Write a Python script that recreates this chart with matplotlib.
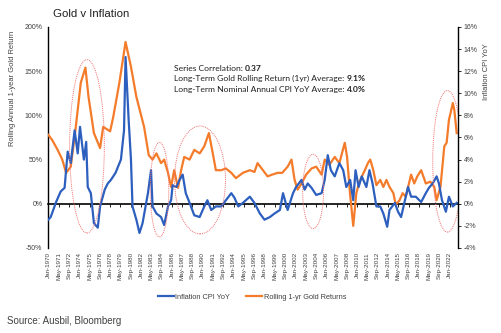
import numpy as np
import matplotlib
matplotlib.use("Agg")
import matplotlib.pyplot as plt
from matplotlib.patches import Ellipse
from matplotlib.ticker import FuncFormatter

plt.rcParams["font.family"] = ["Liberation Sans", "DejaVu Sans"]

# ── data (decimal year, % on left scale) ─────────────────────────────────────
gold_t = [1970.0, 1970.5, 1971.2, 1971.8, 1972.3, 1972.9, 1973.5, 1974.2, 1974.8, 1975.2,
          1975.9, 1976.7, 1977.1, 1978.0, 1978.4, 1979.2, 1980.0, 1980.7, 1981.4, 1982.4,
          1983.0, 1983.5, 1984.0, 1984.6, 1985.0, 1985.5, 1985.9, 1986.3, 1986.8, 1987.2,
          1987.6, 1988.3, 1988.9, 1989.6, 1990.2, 1990.8, 1991.3, 1991.7, 1992.4, 1993.0,
          1993.7, 1994.3, 1995.2, 1996.1, 1996.7, 1997.1, 1997.8, 1998.4, 1999.0, 1999.7,
          2000.3, 2001.0, 2001.5, 2001.9, 2002.3, 2002.8, 2003.4, 2004.1, 2004.7, 2005.4,
          2005.8, 2006.4, 2007.1, 2007.7, 2008.4, 2008.7, 2009.1, 2009.5, 2009.9, 2010.3,
          2011.0, 2011.4, 2011.7, 2012.1, 2012.5, 2013.0, 2013.4, 2013.8, 2014.2, 2014.7,
          2015.0, 2015.5, 2015.9, 2016.3, 2017.0, 2017.4, 2017.8, 2018.3, 2018.9, 2019.5,
          2020.0, 2020.3, 2020.8, 2021.3, 2021.6, 2021.9, 2022.2, 2022.4, 2022.6, 2022.9]
gold_v = [78, 72, 61, 50, 35, 42, 83, 137, 154, 121,
          80, 63, 87, 82, 98, 137, 183, 155, 121, 87,
          55, 50, 57, 46, 50, 35, 19, 38, 18, 38,
          53, 50, 61, 57, 65, 80, 57, 38, 38, 40,
          35, 29, 35, 38, 36, 46, 38, 31, 33, 35,
          35, 42, 50, 27, 16, 23, 33, 40, 42, 33,
          50, 44, 53, 46, 69, 53, 10, -25, 12, 25,
          38, 46, 50, 38, 21, 27, 19, 27, 19, 12,
          -1, 4, 12, 8, 33, 23, 31, 38, 23, 25,
          19, 4, 19, 65, 69, 95, 106, 114, 106, 80]

cpi_t = [1970.0, 1970.3, 1971.0, 1971.6, 1972.1, 1972.5, 1972.9, 1973.4, 1973.8, 1974.1,
         1974.6, 1974.9, 1975.1, 1975.5, 1975.9, 1976.4, 1976.7, 1977.3, 1977.7, 1978.1,
         1978.7, 1979.4, 1979.8, 1980.0, 1980.4, 1980.7, 1980.9, 1981.4, 1981.8, 1982.2,
         1982.9, 1983.3, 1983.5, 1984.0, 1984.6, 1985.0, 1985.5, 1985.9, 1986.1, 1986.6,
         1987.0, 1987.4, 1987.8, 1988.3, 1988.9, 1989.6, 1990.2, 1990.6, 1991.1, 1991.7,
         1992.4, 1993.0, 1993.7, 1994.1, 1994.6, 1995.2, 1996.1, 1996.7, 1997.4, 1998.0,
         1998.7, 1999.3, 2000.0, 2000.4, 2001.0, 2001.7, 2002.1, 2002.8, 2003.2, 2003.6,
         2004.1, 2004.7, 2005.4, 2005.8, 2006.2, 2006.6, 2007.1, 2007.7, 2008.2, 2008.6,
         2009.1, 2009.5, 2009.8, 2010.2, 2010.6, 2011.2, 2011.6, 2012.0, 2012.5, 2013.0,
         2013.4, 2013.9, 2014.2, 2014.9, 2015.3, 2015.7, 2016.2, 2016.6, 2017.0, 2017.6,
         2018.3, 2018.9, 2019.3, 2019.8, 2020.3, 2020.6, 2021.0, 2021.5, 2021.9, 2022.4,
         2022.9]
cpi_v = [-18, -15, 2, 14, 18, 59, 46, 83, 57, 87,
         50, 70, 19, 12, -22, -27, -3, 16, 23, 27,
         35, 50, 83, 166, 95, 50, -3, -18, -33, -22,
         12, 38, -3, -11, -15, -24, -3, 4, 21, 19,
         27, 33, 12, 1, -13, -15, -3, 4, -7, -3,
         -3, 4, 12, 7, -3, 1, 8, 1, -11, -18,
         -15, -11, -7, 12, -7, 12, 19, 27, 16, 23,
         18, 10, 12, 27, 55, 38, 31, 46, 38, 19,
         27, 4, 38, 19, 31, 19, 38, 23, -3, -3,
         -11, -26, -7, 1, -9, -15, 4, 19, 8, 8,
         2, 12, 18, 23, 31, 23, 4, -9, 8, -3,
         1]

# highlighted episodes: (centre year, centre %, width yrs, height %)
circles = [(1975.0, 65, 4.5, 196), (1984.4, 16, 2.4, 107), (1989.65, 27, 6.6, 122),
           (2004.3, 14, 2.7, 84), (2021.7, 48, 3.8, 160)]

stats_lines = [("Series Correlation: ", "0.37"),
               ("Long-Term Gold Rolling Return (1yr) Average: ", "9.1%"),
               ("Long-Term Nominal Annual CPI YoY Average: ", "4.0%")]

BLUE = "#2d5fbf"
ORANGE = "#f47b2a"
GREY = "#404040"

fig = plt.figure(figsize=(5.02, 3.33), dpi=100)
ax = fig.add_axes([0.0956, 0.2553, 0.8164, 0.6637])

ax.plot(gold_t, gold_v, color=ORANGE, lw=1.6, label="Rolling 1-yr Gold Returns", zorder=3)
ax.plot(cpi_t, cpi_v, color=BLUE, lw=1.6, label="Inflation CPI YoY", zorder=4)

for cx, cy, w, h in circles:
    ax.add_patch(Ellipse((cx, cy), w, h, fill=False, ec="#f07070", lw=0.7, ls=(0, (1, 1)), zorder=5))

ax.set_xlim(1969.95, 2023.05)
ax.set_ylim(-50, 200)
ax.set_yticks(np.arange(-50, 201, 50))
ax.yaxis.set_major_formatter(FuncFormatter(lambda v, p: f"{v:.0f}%"))
ax.tick_params(axis="y", length=0, labelsize=5, labelcolor=GREY, pad=4)
for s in ["top", "right"]:
    ax.spines[s].set_visible(False)
ax.spines["left"].set_linewidth(1.0)
ax.spines["bottom"].set_position(("data", 0))
ax.spines["bottom"].set_linewidth(1.2)

# x ticks every 16 months from Jan-1970
months = ["Jan", "Feb", "Mar", "Apr", "May", "Jun", "Jul", "Aug", "Sep", "Oct", "Nov", "Dec"]
tick_pos, tick_lab = [], []
for k in range(40):
    m = k * 16
    y, mo = 1970 + m // 12, m % 12
    tick_pos.append(y + mo / 12)
    tick_lab.append(f"{months[mo]}-{y}")
ax.set_xticks(tick_pos)
ax.tick_params(axis="x", length=2, width=0.6, labelbottom=False)

sec = ax.secondary_xaxis("bottom")
sec.set_xticks(tick_pos)
sec.set_xticklabels(tick_lab, rotation=90, fontsize=4.5, color=GREY)
sec.tick_params(length=0, pad=3)
sec.spines["bottom"].set_visible(False)

ax.set_ylabel("Rolling Annual 1-year Gold Return", fontsize=5.4, color=GREY)
ax.yaxis.set_label_coords(-0.078, 0.72)

ax2 = ax.twinx()
ax2.set_ylim(-4, 16)
ax2.set_yticks(np.arange(-4, 17, 2))
ax2.yaxis.set_major_formatter(FuncFormatter(lambda v, p: f"{v:.0f}%"))
ax2.tick_params(axis="y", length=2, width=0.6, labelsize=5, labelcolor=GREY, pad=2)
for s in ["top", "left", "bottom"]:
    ax2.spines[s].set_visible(False)
ax2.spines["right"].set_linewidth(1.0)
ax2.set_ylabel("Inflation CPI YoY", fontsize=5.4, color=GREY)
ax2.yaxis.set_label_coords(1.062, 0.8)

# stats box text
y0 = 0.813
for i, (txt, val) in enumerate(stats_lines):
    t = ax.text(0.308, y0 - i * 0.048, txt, transform=ax.transAxes, fontsize=6.1,
                family="Lato", color="#202020", va="center")
    fig.canvas.draw()
    bb = t.get_window_extent()
    x1 = ax.transAxes.inverted().transform((bb.x1, bb.y0))[0]
    ax.text(x1, y0 - i * 0.048, val, transform=ax.transAxes, fontsize=6.1,
            family="Lato", fontweight="bold", color="#202020", va="center")

fig.text(0.105, 0.958, "Gold v Inflation", fontsize=8.2, color="#202020", va="center")

h, l = ax.get_legend_handles_labels()
fig.legend(h[::-1], l[::-1], loc="center", bbox_to_anchor=(0.502, 0.108), ncol=2, frameon=False,
           fontsize=5.3, handlelength=2.2, columnspacing=2.2, handletextpad=0.2,
           labelcolor=GREY)

fig.text(0.014, 0.036, "Source: Ausbil, Bloomberg", fontsize=7.0, color=GREY, va="center")

plt.savefig("out.png", dpi=100)
